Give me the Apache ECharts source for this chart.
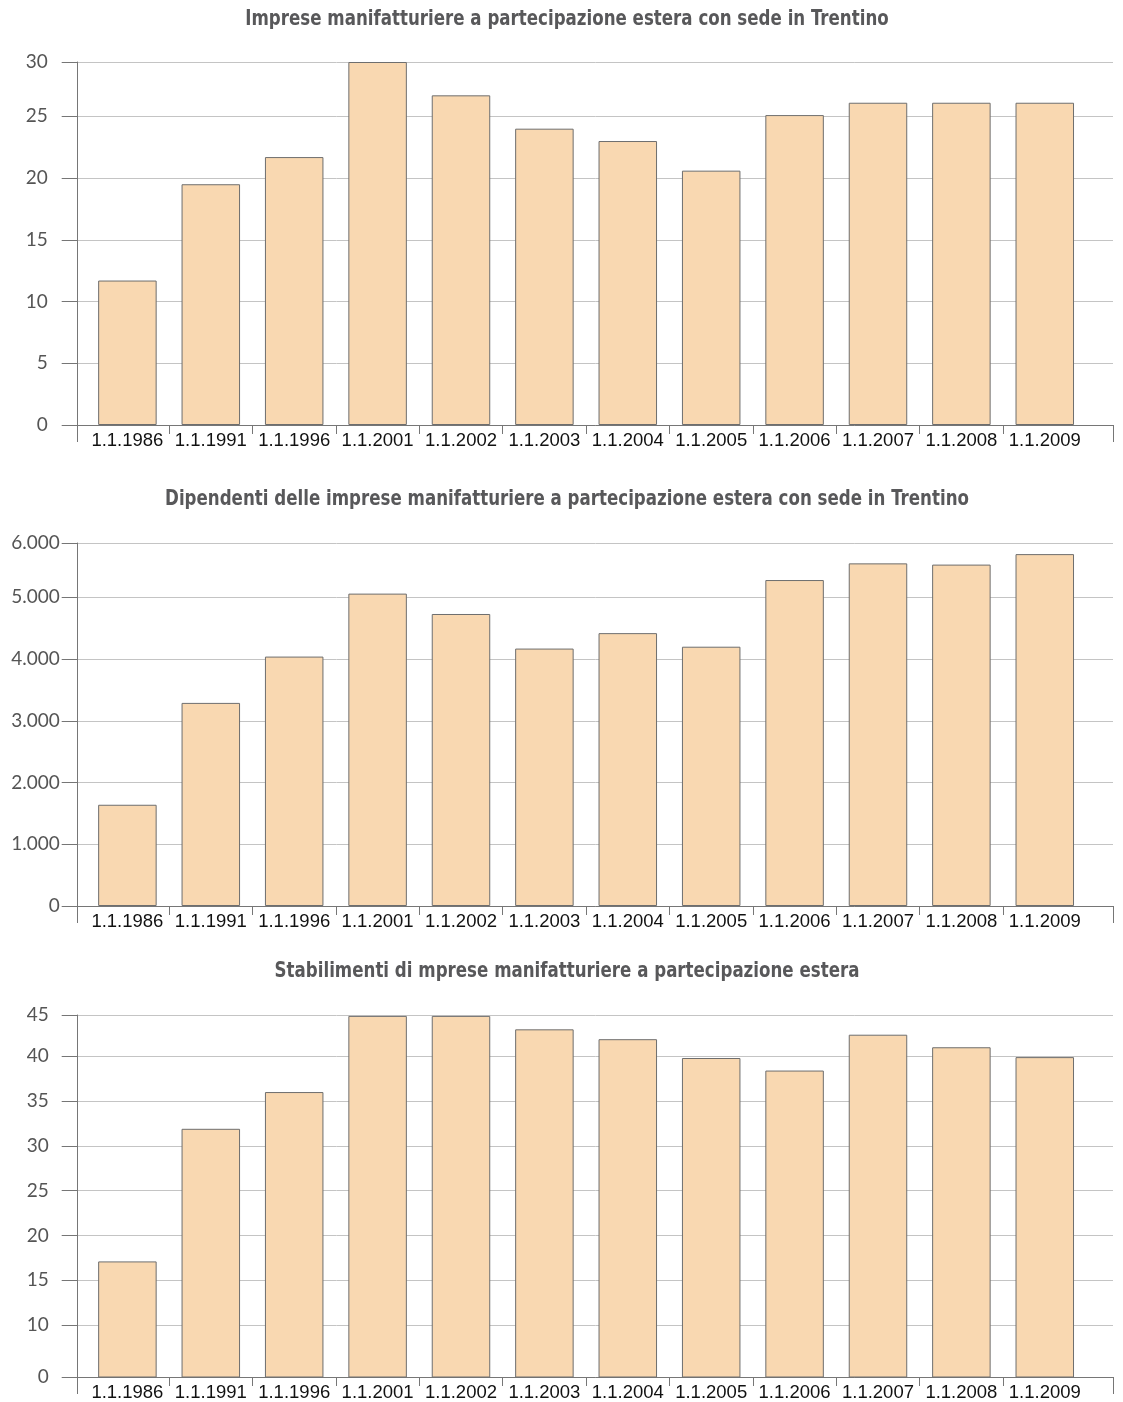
<!DOCTYPE html>
<html>
<head>
<meta charset="utf-8">
<script src="https://cdn.jsdelivr.net/npm/echarts@6/dist/echarts.min.js"></script>
<style>
  html, body { margin: 0; padding: 0; background: #ffffff; }
  #main { width: 1123px; height: 1402px; }
</style>
</head>
<body>
<div id="main"></div>
<script>
// Reference dates (1 January of each year)
const categories = ['1.1.1986', '1.1.1991', '1.1.1996', '1.1.2001', '1.1.2002', '1.1.2003',
                    '1.1.2004', '1.1.2005', '1.1.2006', '1.1.2007', '1.1.2008', '1.1.2009'];

const titles = [
  'Imprese manifatturiere a partecipazione estera con sede in Trentino',
  'Dipendenti delle imprese manifatturiere a partecipazione estera con sede in Trentino',
  'Stabilimenti di mprese manifatturiere a partecipazione estera'
];

// Foreign-owned manufacturing firms
const impreseValues = [11.7, 19.5, 21.7, 29.4, 26.7, 24.0, 23.0, 20.6, 25.1, 26.1, 26.1, 26.1];
// Employees of those firms
const dipendentiValues = [1640, 3290, 4040, 5060, 4730, 4170, 4420, 4200, 5280, 5550, 5530, 5700];
// Plants of those firms
const stabilimentiValues = [17.1, 31.9, 36.0, 44.5, 44.5, 43.0, 41.9, 39.8, 38.4, 42.4, 41.0, 39.9];

// Value-axis ticks and the text printed at each of them
const impreseTickValues = [0, 5, 10, 15, 20, 25, 29.4];
const impreseTickLabels = ['0', '5', '10', '15', '20', '25', '30'];
const dipendentiTickValues = [0, 1000, 2000, 3000, 4000, 5000, 5880];
const dipendentiTickLabels = ['0', '1.000', '2.000', '3.000', '4.000', '5.000', '6.000'];
const stabilimentiTickValues = [4.2, 10, 15, 20, 25, 30, 35, 40, 44.6];
const stabilimentiTickLabels = ['0', '10', '15', '20', '25', '30', '35', '40', '45'];

const panels = [
  { values: impreseValues, ticks: impreseTickValues, labels: impreseTickLabels, labelMargin: 30 },
  { values: dipendentiValues, ticks: dipendentiTickValues, labels: dipendentiTickLabels, labelMargin: 18 },
  { values: stabilimentiValues, ticks: stabilimentiTickValues, labels: stabilimentiTickLabels, labelMargin: 29 }
];

// ---- layout ----
const GRID_TOPS = [62, 543, 1015];
const GRID_HEIGHT = 363;
const TITLE_MIDDLES = [20, 499.5, 972];
const X_MIN = -0.596;
const X_MAX = 11.818;
const AXIS_GRAY = '#767676';
const TITLE_FONT = '"Liberation Sans Narrow", "DejaVu Sans Condensed", "Liberation Sans", sans-serif';
const NUM_FONT = 'Lato, "Open Sans", sans-serif';
const CAT_FONT = '"Liberation Sans", Arial, Helvetica, sans-serif';

const categoryIdx = categories.map((c, i) => i);
const boundaries = categories.slice(1).map((c, i) => i + 0.5);

const option = {
  animation: false,
  backgroundColor: '#ffffff',
  // condensed bold headings above each panel
  graphic: titles.map((t, i) => ({
    type: 'text',
    x: 567,
    y: TITLE_MIDDLES[i],
    scaleX: 0.882,
    silent: true,
    style: {
      text: t,
      align: 'center',
      verticalAlign: 'middle',
      fontFamily: TITLE_FONT,
      fontWeight: 'bold',
      fontSize: 21,
      fill: '#58585a'
    }
  })),
  grid: panels.map((p, i) => ({
    left: 77.7, right: 10, top: GRID_TOPS[i], height: GRID_HEIGHT, containLabel: false
  })),
  xAxis: [],
  yAxis: [],
  series: []
};

panels.forEach((p, i) => {
  option.xAxis.push({
    type: 'value', gridIndex: i, min: X_MIN, max: X_MAX, position: 'bottom',
    axisLine: { show: true, onZero: false, lineStyle: { color: AXIS_GRAY, width: 1 } },
    axisTick: { show: true, length: 9, customValues: boundaries, lineStyle: { color: AXIS_GRAY, width: 1 } },
    axisLabel: {
      customValues: categoryIdx,
      formatter: v => categories[Math.round(v)],
      margin: 6, fontSize: 18.5, color: '#111111', fontFamily: CAT_FONT
    },
    splitLine: { show: false }
  });
  option.xAxis.push({
    type: 'value', gridIndex: i, min: X_MIN, max: X_MAX, position: 'bottom',
    axisLine: { show: false, onZero: false },
    axisTick: { show: true, length: 17, customValues: [X_MIN, X_MAX], lineStyle: { color: AXIS_GRAY, width: 1 } },
    axisLabel: { show: false },
    splitLine: { show: false }
  });
  const yMin = p.ticks[0];
  const yMax = p.ticks[p.ticks.length - 1];
  option.yAxis.push({
    type: 'value', gridIndex: i, min: yMin, max: yMax,
    axisLine: { show: true, onZero: false, lineStyle: { color: AXIS_GRAY, width: 1 } },
    axisTick: { show: true, length: 16, customValues: p.ticks, lineStyle: { color: AXIS_GRAY, width: 1 } },
    axisLabel: {
      customValues: p.ticks,
      formatter: v => {
        let best = 0;
        p.ticks.forEach((t, k) => { if (Math.abs(t - v) < Math.abs(p.ticks[best] - v)) best = k; });
        return p.labels[best];
      },
      margin: p.labelMargin, fontSize: 19, color: '#555555', fontFamily: NUM_FONT, fontWeight: 'normal'
    },
    splitLine: { show: true, lineStyle: { color: '#c4c4c4', width: 1 } }
  });
  option.series.push({
    type: 'bar',
    xAxisIndex: i * 2,
    yAxisIndex: i,
    data: p.values.map((v, k) => [k, v]),
    barWidth: 58.5,
    silent: true,
    itemStyle: { color: '#f9d8b1', borderColor: '#6e6e6e', borderWidth: 1 }
  });
});

const chart = echarts.init(document.getElementById('main'), null, { renderer: 'canvas' });
chart.setOption(option);
</script>
</body>
</html>
